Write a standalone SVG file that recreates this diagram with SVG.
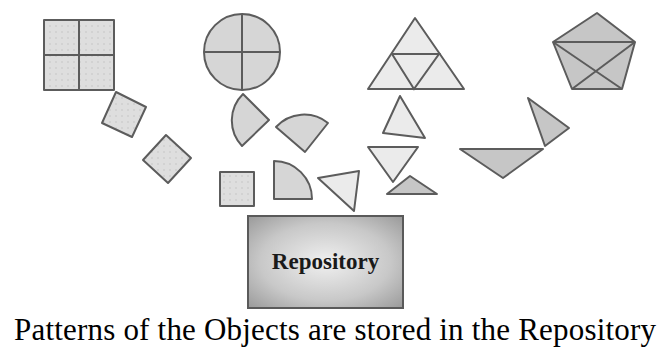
<svg xmlns="http://www.w3.org/2000/svg" width="666" height="349" viewBox="0 0 666 349">
  <defs>
    <pattern id="dots" width="6" height="6" patternUnits="userSpaceOnUse">
      <rect width="6" height="6" fill="#dedede"/>
      <circle cx="2" cy="2" r="0.7" fill="#bdbdbd"/>
    </pattern>
    <radialGradient id="repoFill" cx="0.5" cy="0.5" r="0.7">
      <stop offset="0" stop-color="#f0f0f0"/>
      <stop offset="0.6" stop-color="#c8c8c8"/>
      <stop offset="1" stop-color="#9a9a9a"/>
    </radialGradient>
  </defs>
  <style>
    .shape { stroke: #5c5c5c; stroke-width: 2; stroke-linejoin: round; }
    .sq { fill: url(#dots); }
    .mid { fill: #d6d6d6; }
    .light { fill: #ebebeb; }
    .dark { fill: #c6c6c6; }
    .div { fill: none; stroke: #5c5c5c; stroke-width: 2; }
    .repo-label { font-family: "Liberation Serif", "Times New Roman", serif; font-weight: bold; font-size: 23px; fill: #1a1a1a; }
    .caption { font-family: "Liberation Serif", "Times New Roman", serif; font-size: 31px; fill: #000; }
  </style>

  <rect width="666" height="349" fill="#ffffff"/>

  <!-- square set -->
  <g id="square-whole">
    <rect class="shape sq" x="44" y="20" width="70" height="70"/>
    <line class="div" x1="79" y1="20" x2="79" y2="90"/>
    <line class="div" x1="44" y1="55" x2="114" y2="55"/>
  </g>
  <g id="square-piece-1">
    <polygon class="shape sq" points="116,92 146,107 132,137 102,123"/>
  </g>
  <g id="square-piece-2">
    <polygon class="shape sq" points="166,135 191,158 168,183 143,160"/>
  </g>
  <g id="square-piece-3">
    <rect class="shape sq" x="220" y="172" width="34" height="34"/>
  </g>

  <!-- circle set -->
  <g id="circle-whole">
    <circle class="shape mid" cx="242" cy="52" r="38"/>
    <line class="div" x1="242" y1="14" x2="242" y2="90"/>
    <line class="div" x1="204" y1="52" x2="280" y2="52"/>
  </g>
  <g id="circle-piece-1">
    <path class="shape mid" d="M269,120 L243,94 A37,37 0 0 0 242,146 Z"/>
  </g>
  <g id="circle-piece-2">
    <path class="shape mid" d="M305,152 L276,127 A38,38 0 0 1 328,123 Z"/>
  </g>
  <g id="circle-piece-3">
    <path class="shape mid" d="M274,199 L274,161 A38,38 0 0 1 312,199 Z"/>
  </g>

  <!-- triangle set -->
  <g id="triangle-whole">
    <polygon class="shape light" points="415,18 464,89 368,89"/>
    <polyline class="div" points="392,54 439,54 414,89 392,54"/>
  </g>
  <g id="triangle-piece-1">
    <polygon class="shape light" points="400,96 425,138 383,133"/>
  </g>
  <g id="triangle-piece-2">
    <polygon class="shape light" points="368,147 418,147 393,182"/>
  </g>
  <g id="triangle-piece-3">
    <polygon class="shape dark" points="410,176 437,194 387,194"/>
  </g>
  <g id="triangle-piece-4">
    <polygon class="shape light" points="318,178 359,171 354,211"/>
  </g>

  <!-- pentagon set -->
  <g id="pentagon-whole">
    <polygon class="shape dark" points="597,13 635,42 622,89 572,89 553,42"/>
    <line class="div" x1="553" y1="42" x2="635" y2="42"/>
    <line class="div" x1="553" y1="42" x2="622" y2="89"/>
    <line class="div" x1="635" y1="42" x2="572" y2="89"/>
  </g>
  <g id="pentagon-piece-1">
    <polygon class="shape dark" points="528,98 569,128 545,146"/>
  </g>
  <g id="pentagon-piece-2">
    <polygon class="shape dark" points="460,149 543,149 503,178"/>
  </g>

  <!-- repository -->
  <g id="repository">
    <rect x="248" y="216" width="155" height="92" fill="url(#repoFill)" stroke="#5a5a5a" stroke-width="2"/>
    <text class="repo-label" x="325.5" y="269" text-anchor="middle">Repository</text>
  </g>

  <text class="caption" x="14" y="340" textLength="642" lengthAdjust="spacing">Patterns of the Objects are stored in the Repository</text>
</svg>
